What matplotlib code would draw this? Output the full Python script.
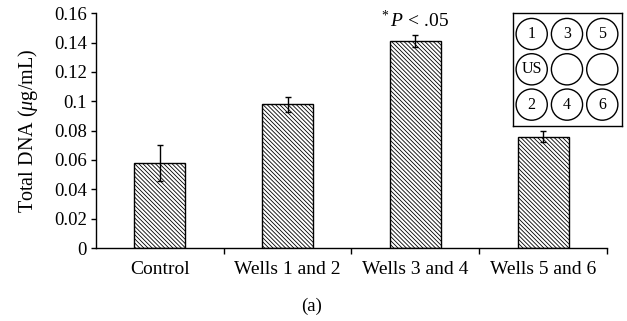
import matplotlib
matplotlib.use("Agg")
import matplotlib.pyplot as plt
from matplotlib.patches import Circle

plt.rcParams["font.family"] = ["Liberation Serif", "DejaVu Serif"]
plt.rcParams["mathtext.fontset"] = "custom"
plt.rcParams["mathtext.rm"] = "Liberation Serif"
plt.rcParams["mathtext.it"] = "Liberation Serif:italic"
plt.rcParams["hatch.linewidth"] = 0.6

# Total DNA per group (mean and error)
categories = ["Control", "Wells 1 and 2", "Wells 3 and 4", "Wells 5 and 6"]
dna_mean = [0.058, 0.098, 0.141, 0.076]
dna_err = [0.012, 0.005, 0.004, 0.004]
y_ticks = [0, 0.02, 0.04, 0.06, 0.08, 0.1, 0.12, 0.14, 0.16]
y_ticklabels = ["0", "0.02", "0.04", "0.06", "0.08", "0.1", "0.12", "0.14", "0.16"]

# Well plate layout labels (row by row)
plate_labels = [["1", "3", "5"], ["US", "", ""], ["2", "4", "6"]]

fig = plt.figure(figsize=(6.27, 3.21), dpi=100)
ax = fig.add_axes([0.1531, 0.2274, 0.8150, 0.7312])

x = list(range(len(categories)))
ax.bar(x, dna_mean, width=0.4, color="white", edgecolor="black",
       linewidth=1.0, hatch="\\" * 8, zorder=2)
ax.errorbar(x, dna_mean, yerr=dna_err, fmt="none", ecolor="black",
            elinewidth=1.0, capsize=2.5, capthick=1.0, zorder=3)

ax.set_xlim(-0.5, len(categories) - 0.5)
ax.set_ylim(0, 0.16)
ax.set_yticks(y_ticks)
ax.set_yticklabels(y_ticklabels, fontsize=13.5)
ax.set_xticks(x)
ax.set_xticklabels(categories, fontsize=14)
ax.set_xticks([i + 0.5 for i in x], minor=True)
ax.tick_params(axis="x", which="major", length=0, pad=9)
ax.tick_params(axis="x", which="minor", length=4, width=1.0, direction="out")
ax.tick_params(axis="y", length=3.5, width=1.0, direction="out", pad=3)
for side in ("top", "right"):
    ax.spines[side].set_visible(False)
for side in ("left", "bottom"):
    ax.spines[side].set_linewidth(1.0)

ax.set_ylabel(r"Total DNA ($\mu$g/mL)", fontsize=14.5, labelpad=10)

# significance marker over the highest group
sig = 2
ax.annotate(r"${}^{*}\,P$ < .05", xy=(sig, dna_mean[sig] + dna_err[sig]),
            xytext=(0, 11), textcoords="offset points",
            ha="center", va="center", fontsize=14)

fig.text(0.497, 0.047, "(a)", ha="center", va="center", fontsize=13.5)

# inset: well plate diagram
ins = fig.add_axes([0.8177, 0.6084, 0.1738, 0.3520])
ins.set_xlim(0, 109)
ins.set_ylim(113, 0)
ins.set_xticks([])
ins.set_yticks([])
for s in ins.spines.values():
    s.set_linewidth(1.0)
r = 15.6
step = 35.3
x0, y0 = 19.0, 21.3
for i, row in enumerate(plate_labels):
    for j, lab in enumerate(row):
        cx, cy = x0 + j * step, y0 + i * step
        ins.add_patch(Circle((cx, cy), r, fill=False, edgecolor="black", linewidth=1.0))
        if lab:
            ins.text(cx, cy, lab, ha="center", va="center", fontsize=11.5)

fig.savefig("out.png", dpi=100)
